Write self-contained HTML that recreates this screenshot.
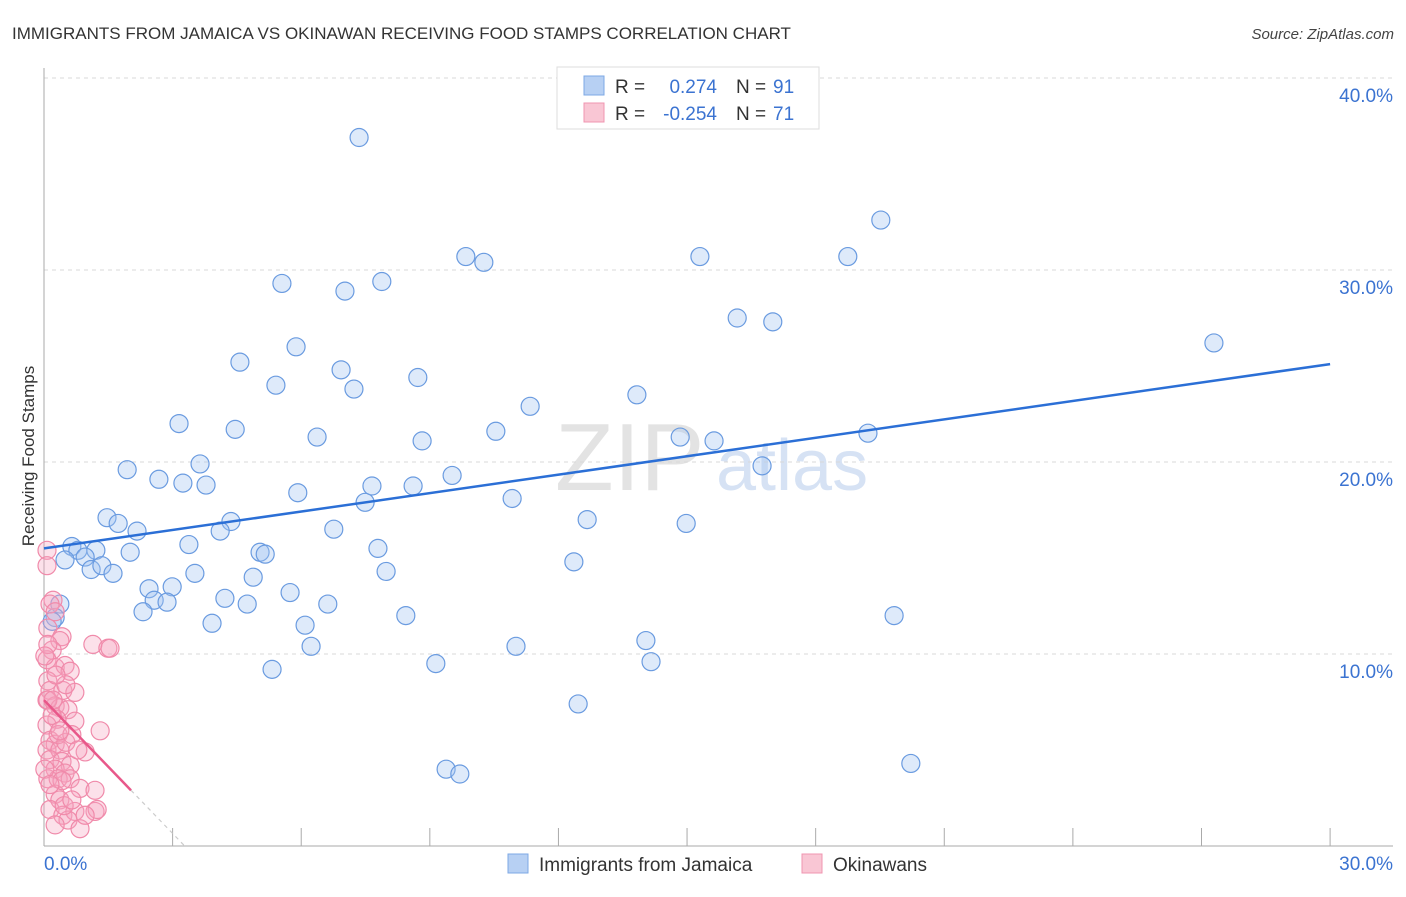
<!DOCTYPE html>
<html><head><meta charset="utf-8"><style>
body{margin:0;background:#fff;font-family:"Liberation Sans",sans-serif;}
svg text{font-family:"Liberation Sans",sans-serif;}
</style></head><body>
<svg id="chart" width="1406" height="892" xmlns="http://www.w3.org/2000/svg">
<text x="12" y="39" font-size="17" fill="#333">IMMIGRANTS FROM JAMAICA VS OKINAWAN RECEIVING FOOD STAMPS CORRELATION CHART</text>
<text x="1394" y="39" font-size="15" fill="#444" text-anchor="end" font-style="italic">Source: ZipAtlas.com</text>
<text transform="translate(34,456) rotate(-90)" font-size="17" fill="#333" text-anchor="middle">Receiving Food Stamps</text>
<g><text x="555" y="490" font-size="96" fill="#d8d8d8" font-family="Liberation Serif" opacity="0.7">ZIP</text><text x="716" y="490" font-size="72" fill="#bcd0ee" opacity="0.6">atlas</text></g>
<g id="grid"></g><g id="axes"></g><g id="pts"></g><g id="trend"></g>
<g>
<rect x="557" y="67" width="262" height="62" fill="#fff" stroke="#ddd"/>
<rect x="584" y="76" width="20" height="19" fill="#b7d0f3" stroke="#7ea8e4"/>
<text x="615" y="93" font-size="19" fill="#333">R =</text><text x="717" y="93" font-size="19" fill="#3b73d1" text-anchor="end">0.274</text>
<text x="736" y="93" font-size="19" fill="#333">N =</text><text x="773" y="93" font-size="19" fill="#3b73d1">91</text>
<rect x="584" y="103" width="20" height="19" fill="#f9c6d4" stroke="#f095b0"/>
<text x="615" y="120" font-size="19" fill="#333">R =</text><text x="717" y="120" font-size="19" fill="#3b73d1" text-anchor="end">-0.254</text>
<text x="736" y="120" font-size="19" fill="#333">N =</text><text x="773" y="120" font-size="19" fill="#3b73d1">71</text>
</g>
<g>
<rect x="508" y="854" width="20" height="19" fill="#b7d0f3" stroke="#7ea8e4"/>
<text x="539" y="871" font-size="19" fill="#333">Immigrants from Jamaica</text>
<rect x="802" y="854" width="20" height="19" fill="#f9c6d4" stroke="#f095b0"/>
<text x="833" y="871" font-size="19" fill="#333">Okinawans</text>
</g>
</svg>
<script>
const yTicks=[10,20,30,40];
const xTickLabels=["0.0%","30.0%"];
const blueX=[7.35,19.52,9.84,10.26,15.30,18.75,5.55,7.88,7.02,16.17,17.00,27.29,5.88,4.57,6.93,5.41,8.72,7.23,13.83,11.34,3.15,4.46,6.37,10.54,8.82,14.84,15.63,19.22,16.75,1.94,3.64,9.52,2.68,3.24,3.78,7.65,8.61,5.92,10.92,7.49,1.47,1.73,4.36,12.67,14.98,2.17,4.11,6.76,0.65,0.79,1.21,0.49,0.96,2.01,3.38,5.04,5.16,7.79,1.10,1.35,1.61,12.36,3.52,4.88,7.98,2.45,2.99,5.74,2.57,2.87,4.22,2.31,4.74,6.62,8.44,19.83,0.37,0.26,0.19,3.92,6.09,6.23,11.01,14.04,5.32,9.14,14.16,12.46,9.38,9.70,20.22];
const blueY=[36.9,32.6,30.7,30.4,30.7,30.7,29.3,29.4,28.9,27.5,27.3,26.2,26.0,25.2,24.8,24.0,24.4,23.8,23.5,22.9,22.0,21.7,21.3,21.6,21.1,21.3,21.1,21.5,19.8,19.6,19.9,19.3,19.1,18.9,18.8,18.75,18.75,18.4,18.1,17.9,17.1,16.8,16.9,17.0,16.8,16.4,16.4,16.5,15.6,15.4,15.4,14.9,15.05,15.3,15.7,15.3,15.2,15.5,14.4,14.6,14.2,14.8,14.2,14.0,14.3,13.4,13.5,13.2,12.8,12.7,12.9,12.2,12.6,12.6,12.0,12.0,12.6,11.9,11.7,11.6,11.5,10.4,10.4,10.7,9.2,9.5,9.6,7.4,4.0,3.75,4.3];
const pinkX=[0.07,0.07,0.21,0.14,0.26,0.09,0.42,0.37,0.19,1.14,1.49,1.54,0.07,0.26,0.49,0.61,0.09,0.14,0.44,0.72,0.07,0.26,0.37,0.56,0.30,0.72,0.07,1.31,0.14,0.26,0.07,0.37,0.96,0.14,0.42,0.61,0.26,0.49,0.09,0.33,0.61,0.84,1.19,0.26,0.37,0.14,0.44,0.72,1.19,1.24,0.56,0.84,0.26,0.09,0.19,0.33,0.51,0.65,0.79,0.02,0.42,0.21,0.37,0.51,0.09,0.28,0.02,0.47,0.96,0.65,0.14];
const pinkY=[15.4,14.6,12.8,12.6,12.2,11.35,10.9,10.7,10.2,10.5,10.3,10.3,9.7,9.3,9.4,9.1,8.6,8.1,8.1,8.0,7.6,7.3,7.2,7.1,6.6,6.5,6.3,6.0,5.5,5.3,5.0,5.0,4.9,4.5,4.4,4.2,4.0,3.8,3.5,3.5,3.5,3.0,2.9,2.7,2.4,1.9,1.6,1.8,1.8,1.9,1.35,0.9,1.1,7.6,6.8,5.8,5.4,5.8,5.0,4.0,3.4,7.6,6.0,8.4,10.5,8.9,9.9,2.1,1.6,2.4,3.2];
const blueTrend=[15.5,25.1];
const pinkTrend=[7.6,2.9];
const NS="http://www.w3.org/2000/svg";
const X=v=>44+v*42.87, Y=v=>846-v*19.2;
function mk(tag,parent,attrs){const e=document.createElementNS(NS,tag);for(const k in attrs)e.setAttribute(k,attrs[k]);document.getElementById(parent).appendChild(e);return e;}
yTicks.forEach(t=>{
 const l=mk('line','grid',{x1:44,x2:1393,y1:Y(t),y2:Y(t),stroke:'#d8d8d8','stroke-dasharray':'4,4'});
 
 
 const tx=mk('text','grid',{x:1393,y:Y(t)+24,'font-size':19,fill:'#3b73d1','text-anchor':'end'});
 tx.textContent=t.toFixed(1)+'%';
 
 
});
const ya=mk('line','axes',{x1:44,x2:44,y1:68,y2:846,stroke:'#aaa'});


const xa=mk('line','axes',{x1:44,x2:1393,y1:846,y2:846,stroke:'#aaa'});


for(let i=1;i<=10;i++){const t=mk('line','axes',{x1:X(i*3),x2:X(i*3),y1:828,y2:846,stroke:'#aaa'});
 
 }
[[0,'start'],[30,'end']].forEach((p,i)=>{const t=mk('text','axes',{x:i?1393:44,y:870,'font-size':19,fill:'#3b73d1','text-anchor':p[1]});t.textContent=xTickLabels[i];
 
 });
blueX.forEach((v,i)=>{const c=mk('circle','pts',{cx:X(v),cy:Y(blueY[i]),r:9,fill:'rgba(160,196,240,0.35)',stroke:'#6a9be0','stroke-width':1.2});
 
 });
pinkX.forEach((v,i)=>{const c=mk('circle','pts',{cx:X(v),cy:Y(pinkY[i]),r:9,fill:'rgba(245,165,190,0.33)',stroke:'#f08aaa','stroke-width':1.2});
 
 });
const bt=mk('line','trend',{x1:X(0),y1:Y(blueTrend[0]),x2:X(30),y2:Y(blueTrend[1]),stroke:'#2b6fd6','stroke-width':2.5});


const slope=(pinkTrend[1]-pinkTrend[0])/2.03, x0=-pinkTrend[0]/slope;
const pt=mk('line','trend',{x1:X(0),y1:Y(pinkTrend[0]),x2:X(2.03),y2:Y(pinkTrend[1]),stroke:'#e8588a','stroke-width':2.5});


const pd=mk('line','trend',{x1:X(2.03),y1:Y(pinkTrend[1]),x2:X(x0),y2:Y(0),stroke:'#ccc','stroke-width':1.2,'stroke-dasharray':'4,4'});


</script>
</body></html>
